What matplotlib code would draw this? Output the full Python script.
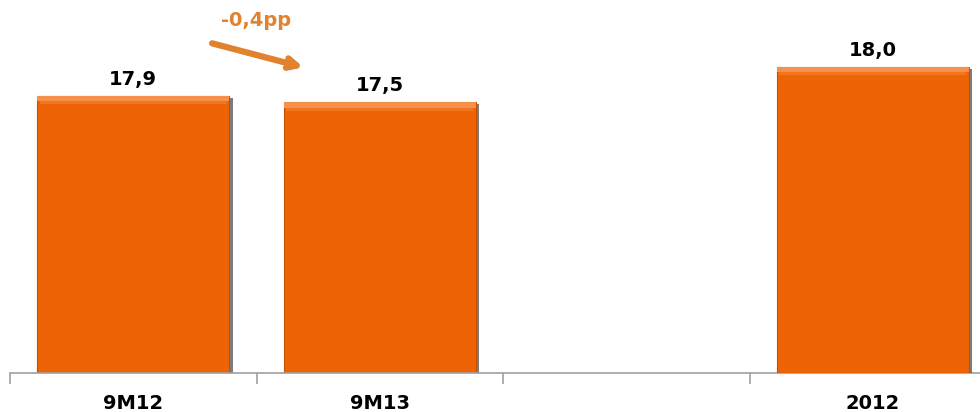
import matplotlib
matplotlib.use("Agg")
from matplotlib import pyplot as plt
import matplotlib.patheffects as pe

# categories and values (9M values share one scale, 2012 sits on its own scale)
categories = ["9M12", "9M13", "", "2012"]
values_9m = [17.9, 17.5]
value_2012 = 18.0
labels_9m = ["17,9", "17,5"]
label_2012 = "18,0"
delta_label = "-0,4pp"

orange = "#EE6305"
light = "#F6904A"
arrow_col = "#E0822E"

fig = plt.figure(figsize=(9.8, 4.12), dpi=100)
ax = fig.add_axes([10 / 980, 39 / 412, 986 / 980, 373 / 412])
ax2 = ax.twinx()

shadow = [pe.SimplePatchShadow(offset=(2.5, -1.5), shadow_rgbFace="#444444", alpha=0.7), pe.Normal()]
w = 0.78

x9 = [0, 1]
bars = ax.bar(x9, values_9m, width=w, color=orange, edgecolor="#C55000", linewidth=0.8)
for b in bars:
    b.set_path_effects(shadow)
# light bevel at bar tops
ax.bar(x9, [0.35] * 2, bottom=[v - 0.35 for v in values_9m], width=w, color=light, linewidth=0)
ax.bar(x9, [0.2] * 2, bottom=[v - 0.55 for v in values_9m], width=w * 0.97, color="#F27520", linewidth=0)

b2 = ax2.bar([3], [value_2012], width=w, color=orange, edgecolor="#C55000", linewidth=0.8)
b2[0].set_path_effects(shadow)
ax2.bar([3], [0.32], bottom=[value_2012 - 0.32], width=w, color=light, linewidth=0)
ax2.bar([3], [0.18], bottom=[value_2012 - 0.5], width=w * 0.97, color="#F27520", linewidth=0)

ax.set_ylim(0, 24.1)
ax2.set_ylim(0, 21.94)
ax.set_xlim(-0.5, 3.5)

for x, v, t in zip(x9, values_9m, labels_9m):
    ax.text(x, v + 0.45, t, ha="center", va="bottom", fontsize=14, fontweight="heavy", color="black")
ax2.text(3, value_2012 + 0.4, label_2012, ha="center", va="bottom", fontsize=14, fontweight="heavy", color="black")

ax.annotate("", xy=(0.69, 19.75), xytext=(0.32, 21.3),
            arrowprops=dict(arrowstyle="->,head_length=0.7,head_width=0.35", color=arrow_col, lw=4.5,
                            shrinkA=0, shrinkB=0))
ax.text(0.5, 22.8, delta_label, ha="center", va="center", fontsize=14, fontweight="heavy", color=arrow_col)

for a in (ax, ax2):
    for s in ("top", "right", "left"):
        a.spines[s].set_visible(False)
    a.set_yticks([])
ax2.spines["bottom"].set_visible(False)
ax.spines["bottom"].set_color("#A0A0A0")
ax.spines["bottom"].set_linewidth(1.2)

ax.set_xticks([-0.5, 0.5, 1.5, 2.5, 3.5])
ax.set_xticklabels([])
ax.set_xticks([0, 1, 2, 3], minor=True)
ax.set_xticklabels(categories, minor=True, fontsize=14, fontweight="heavy")
ax.tick_params(axis="x", which="major", direction="out", length=8, color="#A0A0A0", width=1.2)
ax.tick_params(axis="x", which="minor", length=0, pad=15)
ax2.tick_params(axis="x", length=0)

fig.savefig("out.png", dpi=100)
